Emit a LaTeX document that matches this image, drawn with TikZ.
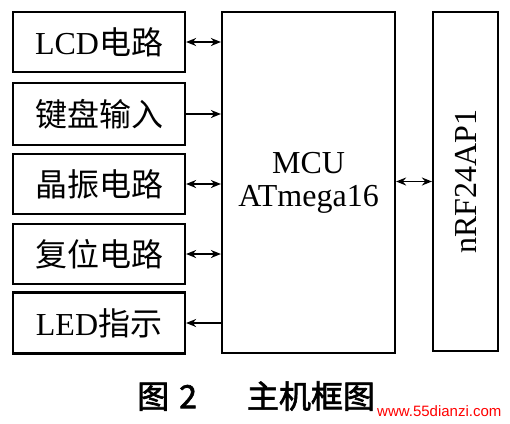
\documentclass[tikz,border=0pt]{standalone}
\usepackage{fontspec}
\setmainfont{Liberation Serif}
\newfontfamily\cjk{Noto Sans CJK SC}
\newfontfamily\cjkbold[FakeBold=2]{Noto Sans CJK SC}
\newfontfamily\wmfont{Liberation Sans}
\usetikzlibrary{arrows.meta, positioning}

\begin{document}
\begin{tikzpicture}[
        x=1pt, y=-1pt,
        partbox/.style={rectangle, draw=black, line width=2.2pt, minimum width=172pt, minimum height=60pt, inner sep=0pt, align=center, font=\fontsize{32}{34}\selectfont},
        chipbox/.style={rectangle, draw=black, line width=2.2pt, inner sep=0pt, align=center, font=\fontsize{32}{33}\selectfont},
        biarrow/.style={{Stealth[length=10pt,width=8pt]}-{Stealth[length=10pt,width=8pt]}, line width=1.8pt},
        onearrow/.style={-{Stealth[length=10pt,width=8pt]}, line width=1.8pt}
    ]
    \useasboundingbox (0,0) rectangle (510,423);

    % Peripheral blocks
    \node[partbox] (lcd) at (99,42) {LCD{\cjk 电路}};
    \node[partbox, minimum height=62pt] (key) at (99,114) {\cjk 键盘输入};
    \node[partbox] (osc) at (99,184) {\cjk 晶振电路};
    \node[partbox] (rst) at (99,254) {\cjk 复位电路};
    \node[partbox, minimum height=61pt] (led) at (99,323) {LED{\cjk 指示}};

    % Controller and radio
    \node[chipbox, minimum width=173pt, minimum height=341pt] (mcu) at (308.5,182.5) {MCU\\ATmega16};
    \node[chipbox, minimum width=65pt, minimum height=339pt] (nrf) at (465.5,181.5) {};
    \node[rotate=90, font=\fontsize{32}{34}\selectfont] (nrftext) at (nrf.center) {nRF24AP1};

    % Arrows
    \draw[biarrow] (lcd.east) -- (lcd.east -| mcu.west);
    \draw[onearrow] (key.east) -- (key.east -| mcu.west);
    \draw[biarrow] (osc.east) -- (osc.east -| mcu.west);
    \draw[biarrow] (rst.east) -- (rst.east -| mcu.west);
    \draw[onearrow] (led.east -| mcu.west) -- (led.east);
    \draw[biarrow] (mcu.east |- nrf.west) -- (nrf.west);

    % Caption
    \node[anchor=west, inner sep=0pt, font=\fontsize{32}{34}\cjkbold] (caption) at (137,396) {图\hspace{10pt}2\hspace{50pt}主机框图};
    \node[anchor=west, inner sep=0pt, text=red, font=\fontsize{15}{17}\wmfont] (mark) at (377,411) {www.55dianzi.com};
\end{tikzpicture}
\end{document}
